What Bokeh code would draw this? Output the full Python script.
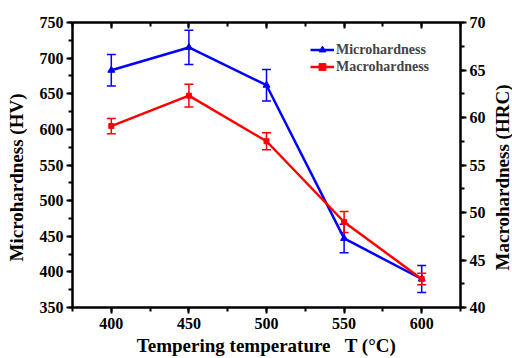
import math
from bokeh.plotting import figure
from bokeh.models import (Range1d, LinearAxis, SingleIntervalTicker, Whisker, ColumnDataSource,
                          Legend, LegendItem, TeeHead, CustomJSTickFormatter, Label)
from bokeh.embed import file_html
from bokeh.resources import INLINE

temps = [400, 450, 500, 550, 600]
micro_hv = [683, 715, 662, 447, 390]
micro_err = [22, 24, 22, 20, 19]
macro_hrc = [59.1, 62.3, 57.5, 49.0, 43.0]
macro_err = [0.8, 1.2, 0.9, 1.1, 0.6]

FONT = "Liberation Serif"
BLUE = "#0000ff"
RED = "#ff0000"
NB = "\u00a0"

p = figure(width=512, height=358, output_backend="svg", toolbar_location=None,
           x_range=Range1d(375, 625), y_range=Range1d(350, 750),
           min_border_left=72, min_border_right=52, min_border_top=22, min_border_bottom=50)
p.extra_y_ranges = {"hrc": Range1d(40, 70)}
p.grid.visible = False
p.outline_line_color = "black"
p.outline_line_width = 2
p.background_fill_color = "white"
p.border_fill_color = "white"

def style_axis(ax, inward=False):
    ax.axis_line_width = 2
    ax.axis_line_color = "black"
    ax.major_tick_line_width = 2
    ax.minor_tick_line_width = 2
    if inward:
        ax.major_tick_in = 6; ax.major_tick_out = 0
        ax.minor_tick_in = 4; ax.minor_tick_out = 0
    else:
        ax.major_tick_in = 0; ax.major_tick_out = 6
        ax.minor_tick_in = 0; ax.minor_tick_out = 4
    ax.major_label_text_font = FONT
    ax.major_label_text_font_style = "bold"
    ax.major_label_text_font_size = "16px"
    ax.major_label_text_color = "black"
    ax.axis_label_text_font = FONT
    ax.axis_label_text_font_style = "bold"
    ax.axis_label_text_font_size = "19px"
    ax.axis_label_text_color = "black"

def side_label(text, x, y):
    return Label(x=x, y=y, x_units="screen", y_units="screen", angle=math.pi / 2,
                 text=text, text_align="center", text_baseline="middle",
                 text_font=FONT, text_font_style="bold", text_font_size="19px",
                 text_color="black")

xb = p.xaxis[0]
xb.ticker = SingleIntervalTicker(interval=50, num_minor_ticks=2)
xb.axis_label = "Tempering temperature" + NB * 3 + "T (°C)"
style_axis(xb)
xb.major_label_standoff = 4
xb.axis_label_standoff = 3

yl = p.yaxis[0]
yl.ticker = SingleIntervalTicker(interval=50, num_minor_ticks=2)
style_axis(yl)
yl.major_label_standoff = 3
p.add_layout(side_label("Microhardness (HV)", 1, 130), "left")

yr = LinearAxis(y_range_name="hrc", ticker=SingleIntervalTicker(interval=5, num_minor_ticks=2))
style_axis(yr)
yr.major_label_standoff = 3
p.add_layout(yr, "right")
p.add_layout(side_label("Macrohardness (HRC)", 14, 130), "right")

xt = LinearAxis(ticker=SingleIntervalTicker(interval=50, num_minor_ticks=2),
                formatter=CustomJSTickFormatter(code="return '';"))
style_axis(xt, inward=True)
xt.major_label_text_font_size = "0px"
xt.major_label_standoff = 0
p.add_layout(xt, "above")

# Microhardness (left axis)
src_m = ColumnDataSource(dict(x=temps, y=micro_hv,
                              lo=[v - e for v, e in zip(micro_hv, micro_err)],
                              hi=[v + e for v, e in zip(micro_hv, micro_err)]))
lm = p.line("x", "y", source=src_m, line_color=BLUE, line_width=2.5)
sm = p.scatter("x", "y", source=src_m, marker="triangle", size=7, fill_color=BLUE, line_color=BLUE)
wm = Whisker(base="x", lower="lo", upper="hi", source=src_m, line_color=BLUE, line_width=1.5,
             upper_head=TeeHead(size=9, line_color=BLUE, line_width=1.5),
             lower_head=TeeHead(size=9, line_color=BLUE, line_width=1.5))
p.add_layout(wm)

# Macrohardness (right axis)
src_r = ColumnDataSource(dict(x=temps, y=macro_hrc,
                              lo=[v - e for v, e in zip(macro_hrc, macro_err)],
                              hi=[v + e for v, e in zip(macro_hrc, macro_err)]))
lr = p.line("x", "y", source=src_r, line_color=RED, line_width=2.5, y_range_name="hrc")
sr = p.scatter("x", "y", source=src_r, marker="square", size=5, fill_color=RED, line_color=RED,
               y_range_name="hrc")
wr = Whisker(base="x", lower="lo", upper="hi", source=src_r, line_color=RED, line_width=1.5,
             y_range_name="hrc",
             upper_head=TeeHead(size=9, line_color=RED, line_width=1.5),
             lower_head=TeeHead(size=9, line_color=RED, line_width=1.5))
p.add_layout(wr)

legend = Legend(items=[LegendItem(label="Microhardness", renderers=[lm, sm]),
                       LegendItem(label="Macrohardness", renderers=[lr, sr])],
                location=(238, 232), border_line_color=None, background_fill_alpha=0,
                glyph_width=24, glyph_height=17, label_height=17, spacing=0, padding=0, margin=0,
                label_standoff=2, label_text_font=FONT, label_text_font_style="bold",
                label_text_font_size="14px")
p.add_layout(legend)

open("out.html", "w").write(file_html(p, INLINE))
